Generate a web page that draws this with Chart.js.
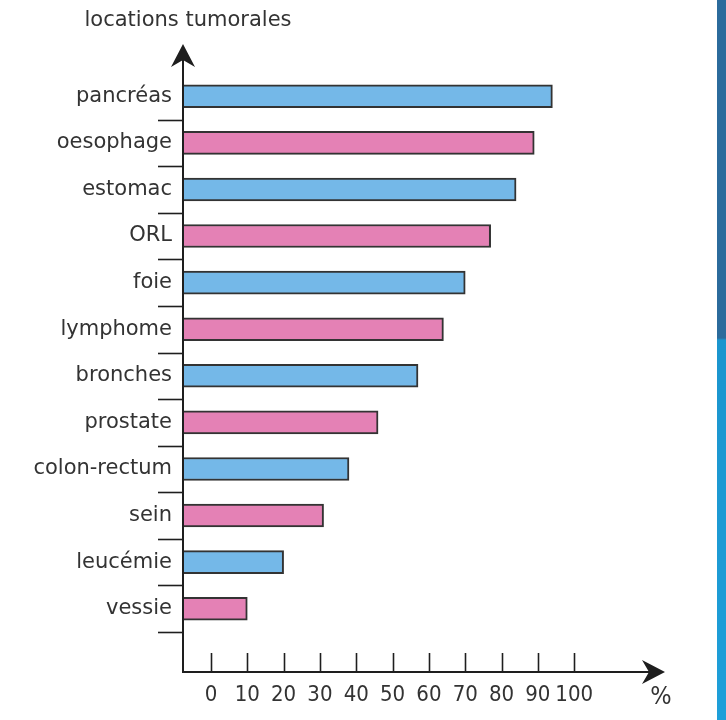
<!DOCTYPE html>
<html>
<head>
<meta charset="utf-8">
<script src="https://cdn.jsdelivr.net/npm/chart.js@4.4.1/dist/chart.umd.min.js"></script>
<style>
  html, body { margin: 0; padding: 0; background: #ffffff; }
  #wrap { position: relative; width: 726px; height: 720px; }
  #stripe {
    position: absolute; top: 0; right: 0; width: 9px; height: 720px;
    background: linear-gradient(to bottom, #2b6b9c 0, #2b6b9c 338px, #1b95ce 340px, #1e9fd9 100%);
  }
</style>
</head>
<body>
<div id="wrap">
  <canvas id="chart" width="726" height="720"></canvas>
  <div id="stripe"></div>
</div>
<script>
// data
const locations = ['pancréas', 'oesophage', 'estomac', 'ORL', 'foie', 'lymphome',
  'bronches', 'prostate', 'colon-rectum', 'sein', 'leucémie', 'vessie'];
const percentages = [94, 89, 84, 77, 70, 64, 57, 46, 38, 31, 20, 10];
const tickValues = [0, 10, 20, 30, 40, 50, 60, 70, 80, 90, 100];

const blue = '#74b8e8';
const pink = '#e481b5';
const ink = '#1e1e1e';
const textColor = '#333333';
const labelFont = 'DejaVu Sans';
const numberFont = '"DejaVu Sans Condensed", "DejaVu Sans"';

// x scale: 0 sits a little to the right of the vertical axis, like the drawing
const xMin = -7.7;
const xMax = 125;

function arrowHead(ctx, tipX, tipY, dir) {
  // stealth style arrow, dir 'up' or 'right'
  const len = 23, half = 12, notch = 7;
  ctx.beginPath();
  if (dir === 'up') {
    ctx.moveTo(tipX, tipY);
    ctx.lineTo(tipX + half, tipY + len);
    ctx.lineTo(tipX, tipY + len - notch);
    ctx.lineTo(tipX - half, tipY + len);
  } else {
    ctx.moveTo(tipX, tipY);
    ctx.lineTo(tipX - len, tipY - half);
    ctx.lineTo(tipX - len + notch, tipY);
    ctx.lineTo(tipX - len, tipY + half);
  }
  ctx.closePath();
  ctx.fill();
}

const axesPlugin = {
  id: 'axesPlugin',
  afterDatasetsDraw(chart) {
    const { ctx, chartArea, scales } = chart;
    const x = scales.x, y = scales.y;
    const left = chartArea.left;
    const axisY = chartArea.bottom + 40;
    const topTip = chartArea.top - 29;
    const rightTip = chartArea.right;

    ctx.save();
    ctx.strokeStyle = ink;
    ctx.fillStyle = ink;
    ctx.lineWidth = 2;

    // vertical axis
    ctx.beginPath();
    ctx.moveTo(left, axisY + 1);
    ctx.lineTo(left, topTip + 12);
    ctx.stroke();
    arrowHead(ctx, left, topTip, 'up');

    // horizontal axis
    ctx.beginPath();
    ctx.moveTo(left - 1, axisY);
    ctx.lineTo(rightTip - 12, axisY);
    ctx.stroke();
    arrowHead(ctx, rightTip, axisY, 'right');

    // tick marks on the value axis
    ctx.lineWidth = 1.6;
    tickValues.forEach(v => {
      const px = Math.round(x.getPixelForValue(v)) + 0.5;
      ctx.beginPath();
      ctx.moveTo(px, axisY - 19);
      ctx.lineTo(px, axisY);
      ctx.stroke();
    });

    // separators between categories
    const step = y.getPixelForValue(1) - y.getPixelForValue(0);
    locations.forEach((_, i) => {
      const py = Math.round(y.getPixelForValue(i) + step / 2) + 0.5;
      ctx.beginPath();
      ctx.moveTo(left - 25, py);
      ctx.lineTo(left, py);
      ctx.stroke();
    });

    // axis captions
    ctx.fillStyle = textColor;
    ctx.textBaseline = 'alphabetic';
    ctx.textAlign = 'center';
    ctx.font = '21px ' + labelFont;
    ctx.fillText('locations tumorales', left + 5, 26);
    ctx.font = '25px ' + numberFont;
    ctx.fillText('%', rightTip - 4, 704);
    ctx.restore();
  }
};

new Chart(document.getElementById('chart'), {
  type: 'bar',
  data: {
    labels: locations,
    datasets: [{
      label: 'locations tumorales',
      data: percentages,
      base: xMin,
      backgroundColor: ctx => (ctx.dataIndex % 2 === 0 ? blue : pink),
      borderColor: '#333333',
      borderWidth: 2,
      borderSkipped: 'start',
      barThickness: 23
    }]
  },
  options: {
    indexAxis: 'y',
    responsive: false,
    animation: false,
    layout: { padding: { top: 73, right: 61, left: 0, bottom: 0 } },
    plugins: {
      legend: { display: false },
      title: { display: false },
      tooltip: { enabled: false }
    },
    scales: {
      x: {
        type: 'linear',
        min: xMin,
        max: xMax,
        grid: { display: false, drawTicks: false },
        border: { display: false },
        afterBuildTicks: scale => { scale.ticks = tickValues.map(v => ({ value: v })); },
        afterFit: scale => { scale.height = 88; },
        ticks: {
          padding: 50,
          color: textColor,
          font: { family: numberFont, size: 22 },
          maxRotation: 0,
          autoSkip: false
        }
      },
      y: {
        type: 'category',
        grid: { display: false, drawTicks: false },
        border: { display: false },
        afterFit: scale => { scale.width = 183; },
        ticks: {
          padding: 11,
          color: textColor,
          font: { family: labelFont, size: 21 },
          autoSkip: false
        }
      }
    }
  },
  plugins: [axesPlugin]
});
</script>
</body>
</html>
